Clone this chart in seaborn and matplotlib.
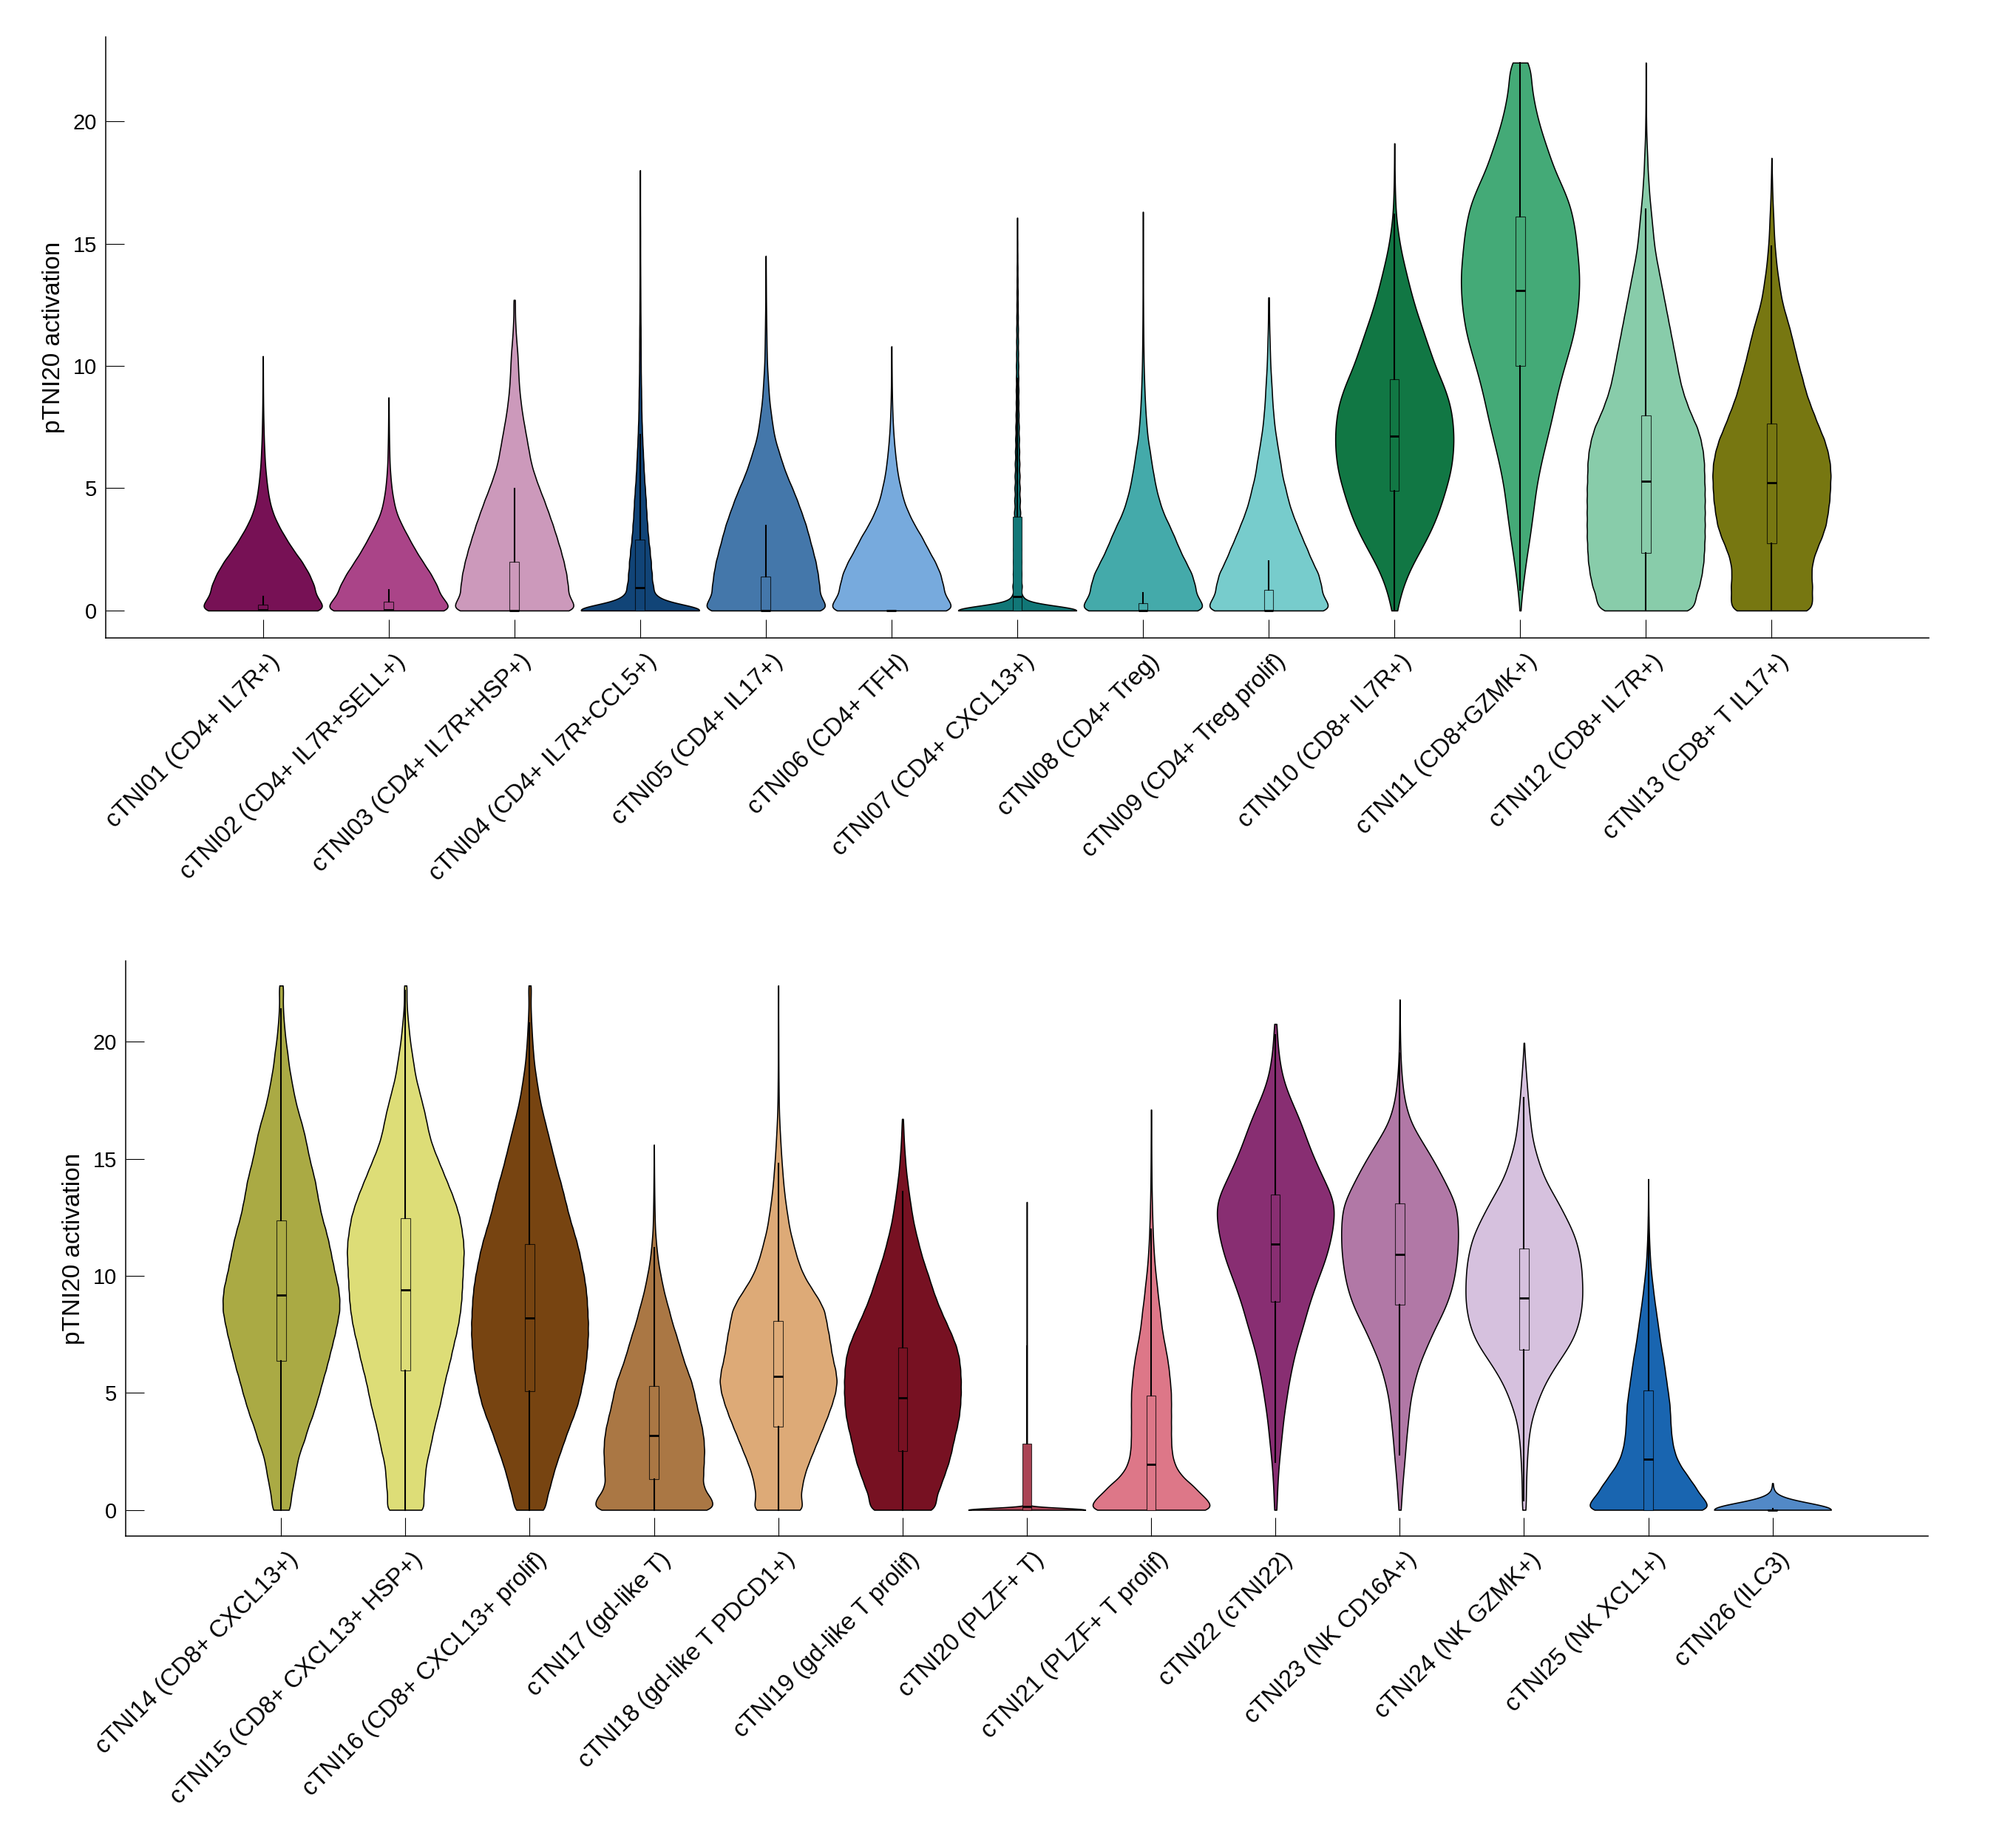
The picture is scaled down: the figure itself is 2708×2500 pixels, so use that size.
import numpy as np
import pandas as pd
import matplotlib
matplotlib.use("Agg")
import matplotlib.pyplot as plt
from matplotlib.transforms import ScaledTranslation
import seaborn as sns

# ---------------- data ----------------
CATS_TOP = ["cTNI01 (CD4+ IL7R+)", "cTNI02 (CD4+ IL7R+SELL+)", "cTNI03 (CD4+ IL7R+HSP+)",
            "cTNI04 (CD4+ IL7R+CCL5+)", "cTNI05 (CD4+ IL17+)", "cTNI06 (CD4+ TFH)",
            "cTNI07 (CD4+ CXCL13+)", "cTNI08 (CD4+ Treg)", "cTNI09 (CD4+ Treg prolif)",
            "cTNI10 (CD8+ IL7R+)", "cTNI11 (CD8+GZMK+)", "cTNI12 (CD8+ IL7R+)",
            "cTNI13 (CD8+ T IL17+)"]
CATS_BOT = ["cTNI14 (CD8+ CXCL13+)", "cTNI15 (CD8+ CXCL13+ HSP+)", "cTNI16 (CD8+ CXCL13+ prolif)",
            "cTNI17 (gd-like T)", "cTNI18 (gd-like T PDCD1+)", "cTNI19 (gd-like T prolif)",
            "cTNI20 (PLZF+ T)", "cTNI21 (PLZF+ T prolif)", "cTNI22 (cTNI22)",
            "cTNI23 (NK CD16A+)", "cTNI24 (NK GZMK+)", "cTNI25 (NK XCL1+)", "cTNI26 (ILC3)"]

COLORS_TOP = ["#771155", "#AA4488", "#CC99BB", "#114477", "#4477AA", "#77AADD", "#117777",
              "#44AAAA", "#77CCCC", "#117744", "#44AA77", "#88CCAA", "#777711"]
COLORS_BOT = ["#AAAA44", "#DDDD77", "#774411", "#AA7744", "#DDAA77", "#771122", "#AA4455",
              "#DD7788", "#882E72", "#B178A6", "#D6C1DE", "#1965B0", "#5289C7"]

# activation levels (bin centres) at which the relative cell density was read
LEVELS = [0.0, 0.5, 1.0, 1.5, 2.0, 2.5, 3.0, 3.5, 4.0, 4.5, 5.0, 5.5, 6.0, 6.5, 7.0, 7.5,
          8.0, 8.5, 9.0, 9.5, 10.0, 10.5, 11.0, 11.5, 12.0, 12.5, 13.0, 13.5, 14.0, 14.5,
          15.0, 15.5, 16.0, 16.5, 17.0, 17.5, 18.0, 18.5, 19.0, 19.5, 20.0, 20.5, 21.0,
          21.5, 22.0]

# relative number of cells per level (percent of the densest level), one list per cluster
W01 = [126, 98, 95, 85, 72, 55, 41, 28, 18, 12, 8.5, 6, 4, 3, 2, 1.5, 1, 0.7, 0.5, 0.4, 0.3]
W02 = [126, 96, 89, 77, 62, 48, 36, 24, 14, 9, 5.5, 3.5, 2, 1.5, 1, 0.7, 0.5, 0.3]
W03 = [125, 100, 99, 96, 91, 85, 78, 71, 63, 55, 46, 38, 31, 27, 23, 19, 15, 12, 9.5, 8, 7, 6,
       4, 2.5, 1.5, 1.0]
W04 = [123, 27, 22, 20, 18.5, 16.5, 14, 12.5, 11, 10, 8.5, 7, 6, 5, 4, 3.3, 2.6, 2.3, 2, 1.6,
       1.4, 1.3, 1.2, 1.1, 0.9, 0.8, 0.7, 0.6, 0.5, 0.45, 0.4, 0.35, 0.3, 0.25, 0.2, 0.2]
W05 = [125, 100, 99, 96, 92, 86, 80, 74, 66, 58, 49, 39, 31, 24, 17, 13, 10, 7, 5.3, 4, 2.6, 2,
       1.6, 1.3, 1, 0.7, 0.5, 0.35, 0.2]
W06 = [125, 99, 95, 90, 80, 67, 56, 42, 31, 22, 17, 12, 9, 6.5, 4.5, 3, 2, 1.3, 0.9, 0.6, 0.35, 0.2]
W07 = [110, 9, 8, 7.3, 6.6, 6.2, 5.9, 5.6, 5.3, 4.9, 4.6, 4.3, 4, 3.6, 3.3, 3, 2.6, 2.3, 2.3, 2,
       2, 1.7, 1.6, 1.5, 1.3, 1.1, 1, 0.8, 0.7, 0.5, 0.4, 0.3]
W08 = [125, 99, 96, 90, 78, 67, 58, 48, 37, 30, 24, 20, 16, 13, 9, 7, 5.2, 4, 3, 2.3, 1.6, 1.3,
       1, 0.8, 0.65, 0.5, 0.4, 0.35, 0.3, 0.25, 0.2, 0.2, 0.15]
W09 = [125, 100, 97, 92, 80, 71, 61, 52, 43, 36, 31, 25, 22, 18, 14.5, 11, 9, 7, 6, 4.6, 3.3,
       2.6, 2, 1.3, 1, 0.7]
W10 = [5, 9, 15, 23, 33, 45, 56, 66, 74, 81, 87, 93, 97, 99, 100, 99, 97, 93, 86, 78, 68, 62,
       54, 48, 40, 34, 28, 23, 18, 13, 9, 6, 3.3, 2, 1.3, 0.8, 0.5, 0.3, 0.2]
W11 = [0.5, 2.6, 4.6, 7.3, 10, 13, 16.5, 19, 22, 24.5, 27, 31, 35, 40, 45, 50, 55, 59, 64, 69,
       75, 81, 87, 92, 95, 98, 99, 100, 99, 97, 95, 93, 89, 85, 77, 68, 58, 51, 44, 37, 31, 26,
       22, 19, 17]
W12 = [84, 83, 91, 95, 98, 99, 100, 100, 100, 100, 100, 99, 99, 97, 93, 87, 77, 69, 62, 57, 53,
       49, 45, 41, 37, 33, 29, 25, 21, 17, 14, 12, 10, 8, 6, 4.7, 3.3, 2.7, 1.7, 1, 0.7, 0.4,
       0.3, 0.2, 0.15]
W13 = [71, 68, 69, 67, 69, 76, 85, 92, 95, 98, 99, 100, 99, 95, 89, 80, 72, 64, 57, 52, 46, 41,
       36, 31, 25, 19, 15, 12, 9, 7, 5.2, 4, 3.3, 2.3, 1.5, 1, 0.5]
W14 = [15.4, 16.5, 20, 24, 27, 32, 40, 45, 53, 59, 65, 70, 76, 81, 86, 91, 95, 99, 99, 97, 92,
       88, 84, 80, 75, 69, 65, 61, 58, 53, 48, 44, 40, 35, 29, 24, 20, 16.5, 13, 11, 8, 6, 4.3,
       3.2, 3]
W15 = [33, 29.5, 32, 33, 35, 40, 44, 48, 53, 58, 62, 66, 71, 76, 80, 85, 89, 92, 94, 95, 96, 97,
       98, 97, 94, 91, 85, 78, 70, 62, 54, 46, 40, 36, 32, 27, 22, 17, 14, 11, 8, 6, 4, 2.5, 1.8]
W16 = [27, 29, 35, 40, 46, 53, 60, 67, 75, 82, 87, 91, 95, 97, 99, 100, 100, 99, 98, 96, 93, 89,
       85, 80, 74, 68, 63, 58, 53, 47, 42, 37, 32, 27, 22, 17.5, 14, 11, 8, 6.2, 4.7, 3.6, 2.6,
       1.8, 1.8]
W17 = [114, 100, 86, 87, 88, 89, 88, 85, 80, 75, 71, 66, 58, 51, 45, 39, 32, 27, 21, 16, 12, 8,
       5.5, 3.5, 2, 1.5, 1.1, 0.8, 0.6, 0.4, 0.3]
W18 = [45, 37, 40, 44, 51, 59, 67, 75, 83, 90, 96, 99, 96, 91, 88, 85, 81, 78, 68, 55, 43, 35,
       29, 24, 19, 16, 13, 10.5, 8.5, 7, 5.5, 4.3, 3.2, 2.2, 1.4, 1, 0.8, 0.6, 0.5, 0.4, 0.35,
       0.3, 0.25, 0.2, 0.2]
W19 = [58, 56, 64, 71, 78, 83, 87, 92, 96, 98, 99, 99, 98, 96, 91, 83, 74, 65, 57, 50, 44, 37,
       31, 26, 21, 17, 14, 11, 8.5, 6, 4.5, 3, 2, 1.2]
W20 = [100, 0.2, 0.2, 0.2, 0.2, 0.2, 0.2, 0.2, 0.2, 0.2, 0.2, 0.2, 0.2, 0.2, 0.2, 0.1, 0.1, 0.1,
       0.1, 0.1, 0.1, 0.1, 0.1, 0.1, 0.1, 0.1, 0.1]
W21 = [121, 97, 77, 52, 41, 37, 36, 36, 36, 36, 36, 34, 32, 29, 25, 21, 18, 16, 13, 11, 8.5,
       6.5, 5, 3.8, 3, 2.3, 1.8, 1.3, 1, 0.8, 0.6, 0.5, 0.4, 0.3]
W22 = [2.4, 2.5, 3.5, 4.5, 6, 8, 10, 12, 14, 17, 20, 23, 27, 31, 36, 42, 48, 53, 59, 66, 73, 81,
       87, 92, 96, 98, 99, 93, 83, 74, 65, 57, 50, 43, 35, 26, 18, 12, 8, 5.5, 3.5, 2.5]
W23 = [2.25, 3, 4.5, 6, 8, 9.5, 11, 13, 15, 17, 20, 25, 30, 37, 46, 54, 64, 74, 82, 88, 92, 95,
       97, 98, 98, 97, 95, 86, 76, 66, 55, 43, 31, 19, 13, 8, 5.5, 3.5, 2.2, 1.4, 0.9, 0.6, 0.4,
       0.3]
W24 = [3.7, 3.2, 3.6, 4, 5, 6, 7.5, 10, 14, 21, 28, 37, 49, 62, 76, 86, 92, 96, 98, 98, 97, 96,
       92, 88, 80, 70, 60, 49, 37, 29, 23, 17, 13, 11, 9, 7, 5.5, 4, 2.5, 1.2]
W25 = [122, 98, 85, 70, 55, 47, 43, 41, 40, 39, 36, 33, 30, 27, 23, 20, 17, 14, 11, 8.5, 6, 4,
       2.8, 1.8, 1.1, 0.7, 0.4, 0.3]
W26 = [100, 2, 0.3]

# maximum observed value per cluster and its relative weight
TOP_T = [10.4, 8.71, 12.7, 18.0, 14.5, 10.8, 16.06, 16.3, 12.8, 19.1, 22.4, 22.4, 18.5]
TOPW_T = [0.2, 0.2, 0.8, 0.2, 0.2, 0.2, 0.2, 0.2, 0.5, 0.2, 14, 0.2, 0.2]
TOP_B = [22.4, 22.4, 22.4, 15.6, 22.4, 16.7, 13.15, 17.1, 20.76, 21.8, 19.95, 14.13, 1.14]
TOPW_B = [3, 2, 2, 0.2, 0.2, 0.2, 0.2, 0.2, 1, 0.2, 0.2, 0.2, 0.2]

# box statistics (q1, median, q3, lower whisker, upper whisker)
Q1_T = [0, 0, 0, 0, 0, 0, 0, 0, 0, 4.9, 10.0, 2.35, 2.74]
MED_T = [0.02, 0.03, 0.0, 0.92, 0.0, 0.0, 0.57, 0.0, 0.0, 7.13, 13.07, 5.28, 5.22]
Q3_T = [0.23, 0.36, 2.0, 2.91, 1.39, 0.0, 3.85, 0.31, 0.85, 9.46, 16.1, 7.99, 7.64]
WLO_T = [0, 0, 0, 0, 0, 0, 0, 0, 0, 0, 0.85, 0, 0]
WHI_T = [0.56, 0.84, 4.98, 7.2, 3.48, 0.0, 9.5, 0.72, 2.03, 16.2, 22.4, 16.4, 14.9]
Q1_B = [6.36, 5.94, 5.07, 1.3, 3.54, 2.5, 0, 0, 8.88, 8.77, 6.85, 0, 0]
MED_B = [9.18, 9.4, 8.2, 3.16, 5.7, 4.8, 0.13, 1.95, 11.34, 10.92, 9.06, 2.16, 0]
Q3_B = [12.37, 12.46, 11.37, 5.28, 8.07, 6.94, 2.82, 4.88, 13.46, 13.08, 11.18, 5.11, 0.02]
WLO_B = [0, 0, 0, 0, 0, 0, 0, 0, 2.05, 2.35, 0.4, 0, 0]
WHI_B = [21.4, 22.2, 20.8, 11.2, 14.8, 13.6, 7.0, 12.0, 20.3, 19.5, 17.6, 12.5, 0.05]

# kernel bandwidth (activation units) used for each violin
BW_T = [0.3, 0.3, 0.3, 0.25, 0.3, 0.3, 0.2, 0.3, 0.3, 0.45, 0.45, 0.3, 0.3]
BW_B = [0.3, 0.3, 0.3, 0.3, 0.3, 0.3, 0.08, 0.3, 0.45, 0.45, 0.45, 0.3, 0.3]

PROFILES_T = [W01, W02, W03, W04, W05, W06, W07, W08, W09, W10, W11, W12, W13]
PROFILES_B = [W14, W15, W16, W17, W18, W19, W20, W21, W22, W23, W24, W25, W26]

FONT = ["Liberation Sans", "DejaVu Sans"]
plt.rcParams["font.family"] = FONT


def cells(profile, top, topw):
    counts = np.round(np.asarray(profile, dtype=float) * 10).astype(int)
    vals = np.repeat(np.asarray(LEVELS[:len(profile)]), counts)
    extra = np.repeat(np.asarray([top]), int(round(topw * 10)))
    return np.concatenate([vals, extra])


def panel(fig, ax, cats, colors, profiles, tops, topws, bws, q1, med, q3, wlo, whi):
    n = len(cats)
    for i, cat in enumerate(cats):
        vals = cells(profiles[i], tops[i], topws[i])
        df = pd.DataFrame({"cluster": [cat] * len(vals), "value": vals})
        sd = np.std(vals, ddof=1)
        sns.violinplot(data=df, x="cluster", y="value", order=cats, color=colors[i],
                       saturation=1, cut=0, density_norm="width", width=0.94, inner=None,
                       linewidth=1.15, linecolor="black", bw_method=bws[i] / sd,
                       gridsize=700, ax=ax)
    stats = [dict(q1=q1[i], med=med[i], q3=q3[i], whislo=wlo[i], whishi=whi[i], label=cats[i])
             for i in range(n)]
    bp = ax.bxp(stats, positions=np.arange(n), widths=0.075, showfliers=False,
                showcaps=False, patch_artist=True, manage_ticks=False,
                boxprops=dict(edgecolor=(0, 0, 0, 0.75), linewidth=0.8),
                medianprops=dict(color="black", linewidth=2.0, solid_capstyle="butt"),
                whiskerprops=dict(color="black", linewidth=1.5))
    for patch, col in zip(bp["boxes"], colors):
        patch.set_facecolor(col)
        patch.set_zorder(3)
    for key in ("medians", "whiskers"):
        for ln in bp[key]:
            ln.set_zorder(4)

    ax.set_xlim(-1.25, 13.25)
    ax.set_ylim(-1.12, 23.45)
    ax.set_yticks([0, 5, 10, 15, 20])
    ax.set_yticklabels(["0", "5", "10", "15", "20"])
    ax.set_xticks(np.arange(n))
    ax.set_xticklabels(cats, rotation=45, ha="right", va="top", rotation_mode="anchor")
    ax.tick_params(axis="both", direction="in", length=18, width=0.8, colors="black")
    ax.tick_params(axis="y", labelsize=21, pad=8.5)
    ax.tick_params(axis="x", labelsize=23.5, pad=3)
    shift = ScaledTranslation(7 / 100, -12 / 100, fig.dpi_scale_trans)
    for lab in ax.get_xticklabels():
        lab.set_transform(lab.get_transform() + shift)
    for s in ("top", "right"):
        ax.spines[s].set_visible(False)
    for s in ("left", "bottom"):
        ax.spines[s].set_linewidth(1.1)
        ax.spines[s].set_color("black")
    ax.set_xlabel("")
    ax.set_ylabel("pTNI20 activation", fontsize=24, labelpad=8)
    ax.grid(False)
    ax.set_facecolor("white")


fig = plt.figure(figsize=(27.08, 25.0), dpi=100, facecolor="white")
ax1 = fig.add_axes([0.0528, 0.6548, 0.9634 - 0.0528, 0.98 - 0.6548])
ax2 = fig.add_axes([0.0628, 0.1688, 0.963 - 0.0628, 0.48 - 0.1688])

panel(fig, ax1, CATS_TOP, COLORS_TOP, PROFILES_T, TOP_T, TOPW_T, BW_T,
      Q1_T, MED_T, Q3_T, WLO_T, WHI_T)
panel(fig, ax2, CATS_BOT, COLORS_BOT, PROFILES_B, TOP_B, TOPW_B, BW_B,
      Q1_B, MED_B, Q3_B, WLO_B, WHI_B)

fig.savefig("out.png", dpi=100, facecolor="white")
